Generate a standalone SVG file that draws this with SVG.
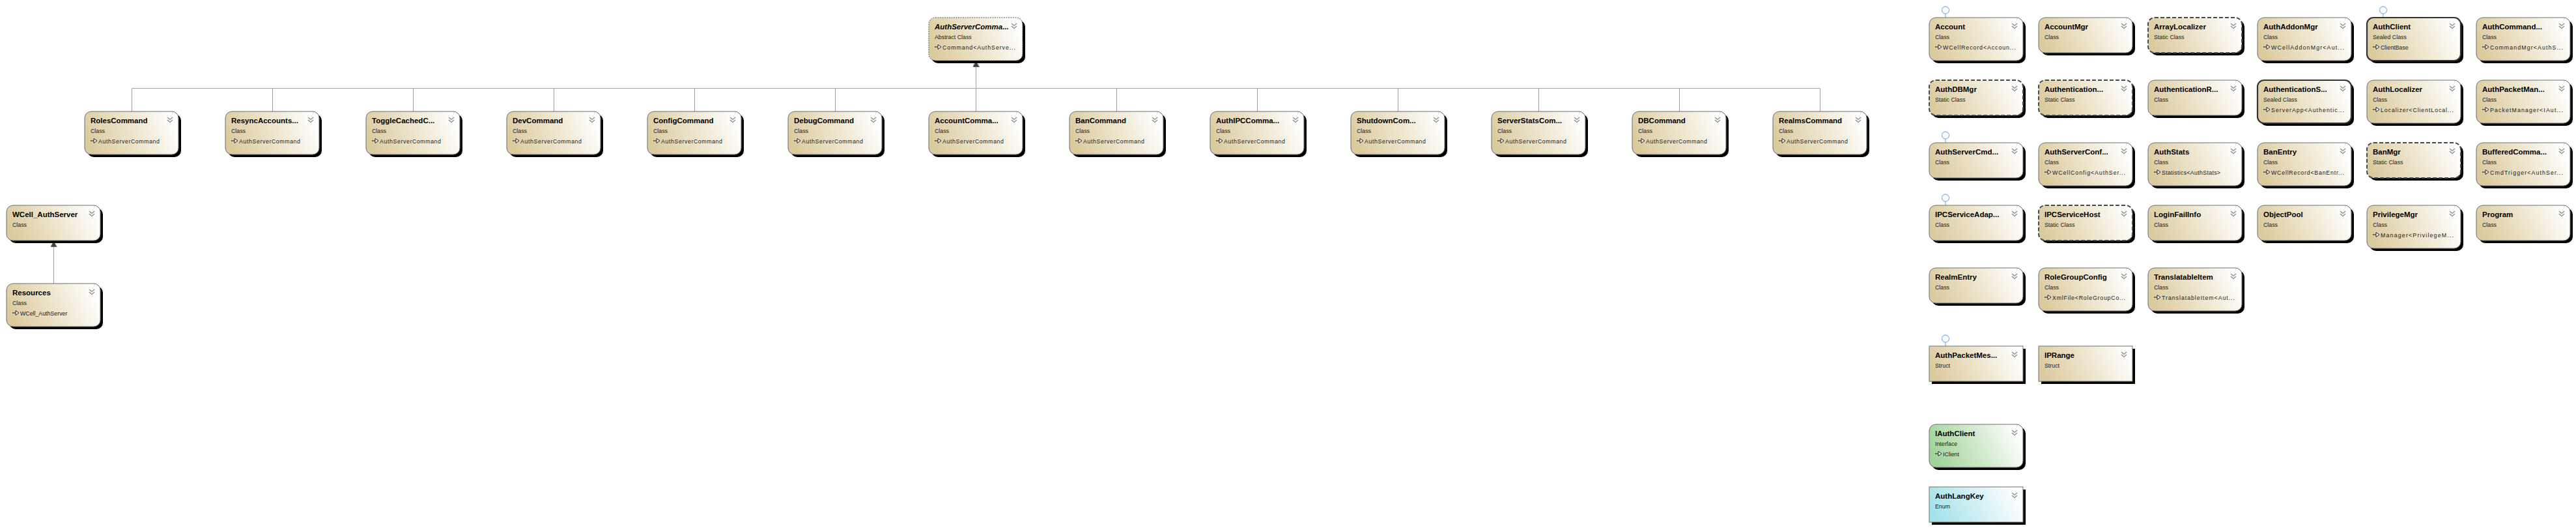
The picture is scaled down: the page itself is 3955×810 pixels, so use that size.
<svg xmlns="http://www.w3.org/2000/svg" width="3955" height="810" viewBox="0 0 3955 810">
<style>
.sh{fill:#000}
.box{stroke:#6f6f6f;stroke-width:1}
.cls{fill:url(#gCls)}
.sealed{stroke:#333;stroke-width:2.2}
.static{stroke:#4a4a4a;stroke-width:2;stroke-dasharray:6 3}
.abstract{stroke:#555;stroke-dasharray:2 1.5}
.iface{fill:url(#gIf)}
.enum{fill:url(#gEn)}
.t{font-family:"Liberation Sans",Arial,sans-serif;font-weight:bold;font-size:11.5px;fill:#000}
.ti{font-style:italic}
.s{font-family:"Liberation Sans",Arial,sans-serif;font-size:8.8px;fill:#1a1a1a}
.conn{fill:none;stroke:#a3a3a3;stroke-width:1}
.lp circle{fill:#fff;stroke:#86b9e8;stroke-width:1.3}
.lp line{stroke:#86b9e8;stroke-width:1.3}
</style>
<defs>
<linearGradient id="gCls" x1="0" y1="0.6" x2="1" y2="0.4"><stop offset="0" stop-color="#DBCA9D"/><stop offset="0.5" stop-color="#EDE4CB"/><stop offset="1" stop-color="#FFFFFF"/></linearGradient>
<linearGradient id="gIf" x1="0" y1="0.6" x2="1" y2="0.4"><stop offset="0" stop-color="#9FD397"/><stop offset="0.5" stop-color="#CFE8CA"/><stop offset="1" stop-color="#FFFFFF"/></linearGradient>
<linearGradient id="gEn" x1="0" y1="0.6" x2="1" y2="0.4"><stop offset="0" stop-color="#A2E2EA"/><stop offset="0.5" stop-color="#D2F0F4"/><stop offset="1" stop-color="#FFFFFF"/></linearGradient>
<g id="chev"><path d="M0,0 L4,3.5 L8,0 M0,4 L4,7.5 L8,4" fill="none" stroke="#8a8a8a" stroke-width="1.3"/></g>
<g id="inh"><path d="M0,0 H5" stroke="#222" stroke-width="1.1"/><path d="M5,-3.5 L10,0 L5,3.5 Z" fill="#fff" stroke="#222" stroke-width="1"/></g>
<marker id="tri" markerUnits="userSpaceOnUse" markerWidth="9" markerHeight="10" viewBox="0 0 9 10" refX="9" refY="5" orient="auto"><path d="M0,0 L9,5 L0,10 Z" fill="#404040" stroke="#9a9a9a" stroke-width="0.8"/></marker>
</defs>
<rect width="3955" height="810" fill="#fff"/>

<g id="connectors">
<path class="conn" marker-end="url(#tri)" d="M202.5,171 V135.5 H1498.5 V94"/>
<path class="conn" marker-end="url(#tri)" d="M418.5,171 V135.5 H1498.5 V94"/>
<path class="conn" marker-end="url(#tri)" d="M634.5,171 V135.5 H1498.5 V94"/>
<path class="conn" marker-end="url(#tri)" d="M850.5,171 V135.5 H1498.5 V94"/>
<path class="conn" marker-end="url(#tri)" d="M1066.5,171 V135.5 H1498.5 V94"/>
<path class="conn" marker-end="url(#tri)" d="M1282.5,171 V135.5 H1498.5 V94"/>
<path class="conn" marker-end="url(#tri)" d="M1498.5,171 V94"/>
<path class="conn" marker-end="url(#tri)" d="M1714.5,171 V135.5 H1498.5 V94"/>
<path class="conn" marker-end="url(#tri)" d="M1930.5,171 V135.5 H1498.5 V94"/>
<path class="conn" marker-end="url(#tri)" d="M2146.5,171 V135.5 H1498.5 V94"/>
<path class="conn" marker-end="url(#tri)" d="M2362.5,171 V135.5 H1498.5 V94"/>
<path class="conn" marker-end="url(#tri)" d="M2578.5,171 V135.5 H1498.5 V94"/>
<path class="conn" marker-end="url(#tri)" d="M2794.5,171 V135.5 H1498.5 V94"/>
<path class="conn" marker-end="url(#tri)" d="M82.5,435 V370"/>
</g>

<g id="n-AuthServerCommand">
<rect class="sh" x="1430" y="31" width="144" height="66" rx="10"/>
<rect class="box cls abstract" x="1426" y="27" width="144" height="66" rx="10"/>
<text class="t ti" x="1435" y="45">AuthServerComma...</text>
<text class="s" x="1435" y="60">Abstract Class</text>
<use href="#inh" x="1435" y="72"/>
<text class="s" x="1447" y="76" textLength="112" lengthAdjust="spacing">Command&lt;AuthServe...</text>
<use href="#chev" x="1553" y="36"/>
</g>

<g id="n-RolesCommand">
<rect class="sh" x="134" y="175" width="144" height="66" rx="10"/>
<rect class="box cls" x="130" y="171" width="144" height="66" rx="10"/>
<text class="t" x="139" y="189">RolesCommand</text>
<text class="s" x="139" y="204">Class</text>
<use href="#inh" x="139" y="216"/>
<text class="s" x="151" y="220" textLength="94" lengthAdjust="spacing">AuthServerCommand</text>
<use href="#chev" x="257" y="180"/>
</g>
<g id="n-ResyncAccounts">
<rect class="sh" x="350" y="175" width="144" height="66" rx="10"/>
<rect class="box cls" x="346" y="171" width="144" height="66" rx="10"/>
<text class="t" x="355" y="189">ResyncAccounts...</text>
<text class="s" x="355" y="204">Class</text>
<use href="#inh" x="355" y="216"/>
<text class="s" x="367" y="220" textLength="94" lengthAdjust="spacing">AuthServerCommand</text>
<use href="#chev" x="473" y="180"/>
</g>
<g id="n-ToggleCached">
<rect class="sh" x="566" y="175" width="144" height="66" rx="10"/>
<rect class="box cls" x="562" y="171" width="144" height="66" rx="10"/>
<text class="t" x="571" y="189">ToggleCachedC...</text>
<text class="s" x="571" y="204">Class</text>
<use href="#inh" x="571" y="216"/>
<text class="s" x="583" y="220" textLength="94" lengthAdjust="spacing">AuthServerCommand</text>
<use href="#chev" x="689" y="180"/>
</g>
<g id="n-DevCommand">
<rect class="sh" x="782" y="175" width="144" height="66" rx="10"/>
<rect class="box cls" x="778" y="171" width="144" height="66" rx="10"/>
<text class="t" x="787" y="189">DevCommand</text>
<text class="s" x="787" y="204">Class</text>
<use href="#inh" x="787" y="216"/>
<text class="s" x="799" y="220" textLength="94" lengthAdjust="spacing">AuthServerCommand</text>
<use href="#chev" x="905" y="180"/>
</g>
<g id="n-ConfigCommand">
<rect class="sh" x="998" y="175" width="144" height="66" rx="10"/>
<rect class="box cls" x="994" y="171" width="144" height="66" rx="10"/>
<text class="t" x="1003" y="189">ConfigCommand</text>
<text class="s" x="1003" y="204">Class</text>
<use href="#inh" x="1003" y="216"/>
<text class="s" x="1015" y="220" textLength="94" lengthAdjust="spacing">AuthServerCommand</text>
<use href="#chev" x="1121" y="180"/>
</g>
<g id="n-DebugCommand">
<rect class="sh" x="1214" y="175" width="144" height="66" rx="10"/>
<rect class="box cls" x="1210" y="171" width="144" height="66" rx="10"/>
<text class="t" x="1219" y="189">DebugCommand</text>
<text class="s" x="1219" y="204">Class</text>
<use href="#inh" x="1219" y="216"/>
<text class="s" x="1231" y="220" textLength="94" lengthAdjust="spacing">AuthServerCommand</text>
<use href="#chev" x="1337" y="180"/>
</g>
<g id="n-AccountCommand">
<rect class="sh" x="1430" y="175" width="144" height="66" rx="10"/>
<rect class="box cls" x="1426" y="171" width="144" height="66" rx="10"/>
<text class="t" x="1435" y="189">AccountComma...</text>
<text class="s" x="1435" y="204">Class</text>
<use href="#inh" x="1435" y="216"/>
<text class="s" x="1447" y="220" textLength="94" lengthAdjust="spacing">AuthServerCommand</text>
<use href="#chev" x="1553" y="180"/>
</g>
<g id="n-BanCommand">
<rect class="sh" x="1646" y="175" width="144" height="66" rx="10"/>
<rect class="box cls" x="1642" y="171" width="144" height="66" rx="10"/>
<text class="t" x="1651" y="189">BanCommand</text>
<text class="s" x="1651" y="204">Class</text>
<use href="#inh" x="1651" y="216"/>
<text class="s" x="1663" y="220" textLength="94" lengthAdjust="spacing">AuthServerCommand</text>
<use href="#chev" x="1769" y="180"/>
</g>
<g id="n-AuthIPCCommand">
<rect class="sh" x="1862" y="175" width="144" height="66" rx="10"/>
<rect class="box cls" x="1858" y="171" width="144" height="66" rx="10"/>
<text class="t" x="1867" y="189">AuthIPCComma...</text>
<text class="s" x="1867" y="204">Class</text>
<use href="#inh" x="1867" y="216"/>
<text class="s" x="1879" y="220" textLength="94" lengthAdjust="spacing">AuthServerCommand</text>
<use href="#chev" x="1985" y="180"/>
</g>
<g id="n-ShutdownCommand">
<rect class="sh" x="2078" y="175" width="144" height="66" rx="10"/>
<rect class="box cls" x="2074" y="171" width="144" height="66" rx="10"/>
<text class="t" x="2083" y="189">ShutdownCom...</text>
<text class="s" x="2083" y="204">Class</text>
<use href="#inh" x="2083" y="216"/>
<text class="s" x="2095" y="220" textLength="94" lengthAdjust="spacing">AuthServerCommand</text>
<use href="#chev" x="2201" y="180"/>
</g>
<g id="n-ServerStatsCommand">
<rect class="sh" x="2294" y="175" width="144" height="66" rx="10"/>
<rect class="box cls" x="2290" y="171" width="144" height="66" rx="10"/>
<text class="t" x="2299" y="189">ServerStatsCom...</text>
<text class="s" x="2299" y="204">Class</text>
<use href="#inh" x="2299" y="216"/>
<text class="s" x="2311" y="220" textLength="94" lengthAdjust="spacing">AuthServerCommand</text>
<use href="#chev" x="2417" y="180"/>
</g>
<g id="n-DBCommand">
<rect class="sh" x="2510" y="175" width="144" height="66" rx="10"/>
<rect class="box cls" x="2506" y="171" width="144" height="66" rx="10"/>
<text class="t" x="2515" y="189">DBCommand</text>
<text class="s" x="2515" y="204">Class</text>
<use href="#inh" x="2515" y="216"/>
<text class="s" x="2527" y="220" textLength="94" lengthAdjust="spacing">AuthServerCommand</text>
<use href="#chev" x="2633" y="180"/>
</g>
<g id="n-RealmsCommand">
<rect class="sh" x="2726" y="175" width="144" height="66" rx="10"/>
<rect class="box cls" x="2722" y="171" width="144" height="66" rx="10"/>
<text class="t" x="2731" y="189">RealmsCommand</text>
<text class="s" x="2731" y="204">Class</text>
<use href="#inh" x="2731" y="216"/>
<text class="s" x="2743" y="220" textLength="94" lengthAdjust="spacing">AuthServerCommand</text>
<use href="#chev" x="2849" y="180"/>
</g>

<g id="n-WCell_AuthServer">
<rect class="sh" x="14" y="319" width="144" height="54" rx="10"/>
<rect class="box cls" x="10" y="315" width="144" height="54" rx="10"/>
<text class="t" x="19" y="333">WCell_AuthServer</text>
<text class="s" x="19" y="348">Class</text>
<use href="#chev" x="137" y="324"/>
</g>
<g id="n-Resources">
<rect class="sh" x="14" y="439" width="144" height="66" rx="10"/>
<rect class="box cls" x="10" y="435" width="144" height="66" rx="10"/>
<text class="t" x="19" y="453">Resources</text>
<text class="s" x="19" y="468">Class</text>
<use href="#inh" x="19" y="480"/>
<text class="s" x="31" y="484">WCell_AuthServer</text>
<use href="#chev" x="137" y="444"/>
</g>

<!-- Row 1 -->
<g id="n-Account">
<g class="lp"><line x1="2987" y1="21" x2="2987" y2="27"/><circle cx="2987" cy="15.5" r="5.5"/></g>
<rect class="sh" x="2966" y="31" width="144" height="66" rx="10"/>
<rect class="box cls" x="2962" y="27" width="144" height="66" rx="10"/>
<text class="t" x="2971" y="45">Account</text>
<text class="s" x="2971" y="60">Class</text>
<use href="#inh" x="2971" y="72"/>
<text class="s" x="2983" y="76" textLength="112" lengthAdjust="spacing">WCellRecord&lt;Accoun...</text>
<use href="#chev" x="3089" y="36"/>
</g>
<g id="n-AccountMgr">
<rect class="sh" x="3134" y="31" width="144" height="54" rx="10"/>
<rect class="box cls" x="3130" y="27" width="144" height="54" rx="10"/>
<text class="t" x="3139" y="45">AccountMgr</text>
<text class="s" x="3139" y="60">Class</text>
<use href="#chev" x="3257" y="36"/>
</g>
<g id="n-ArrayLocalizer">
<rect class="sh" x="3302" y="31" width="144" height="54" rx="10"/>
<rect class="box cls static" x="3298" y="27" width="144" height="54" rx="10"/>
<text class="t" x="3307" y="45">ArrayLocalizer</text>
<text class="s" x="3307" y="60">Static Class</text>
<use href="#chev" x="3425" y="36"/>
</g>
<g id="n-AuthAddonMgr">
<rect class="sh" x="3470" y="31" width="144" height="66" rx="10"/>
<rect class="box cls" x="3466" y="27" width="144" height="66" rx="10"/>
<text class="t" x="3475" y="45">AuthAddonMgr</text>
<text class="s" x="3475" y="60">Class</text>
<use href="#inh" x="3475" y="72"/>
<text class="s" x="3487" y="76" textLength="112" lengthAdjust="spacing">WCellAddonMgr&lt;Aut...</text>
<use href="#chev" x="3593" y="36"/>
</g>
<g id="n-AuthClient">
<g class="lp"><line x1="3659" y1="21" x2="3659" y2="27"/><circle cx="3659" cy="15.5" r="5.5"/></g>
<rect class="sh" x="3638" y="31" width="144" height="66" rx="10"/>
<rect class="box cls sealed" x="3634" y="27" width="144" height="66" rx="10"/>
<text class="t" x="3643" y="45">AuthClient</text>
<text class="s" x="3643" y="60">Sealed Class</text>
<use href="#inh" x="3643" y="72"/>
<text class="s" x="3655" y="76">ClientBase</text>
<use href="#chev" x="3761" y="36"/>
</g>
<g id="n-AuthCommandHandler">
<rect class="sh" x="3806" y="31" width="144" height="66" rx="10"/>
<rect class="box cls" x="3802" y="27" width="144" height="66" rx="10"/>
<text class="t" x="3811" y="45">AuthCommand...</text>
<text class="s" x="3811" y="60">Class</text>
<use href="#inh" x="3811" y="72"/>
<text class="s" x="3823" y="76" textLength="112" lengthAdjust="spacing">CommandMgr&lt;AuthS...</text>
<use href="#chev" x="3929" y="36"/>
</g>

<!-- Row 2 -->
<g id="n-AuthDBMgr">
<rect class="sh" x="2966" y="127" width="144" height="54" rx="10"/>
<rect class="box cls static" x="2962" y="123" width="144" height="54" rx="10"/>
<text class="t" x="2971" y="141">AuthDBMgr</text>
<text class="s" x="2971" y="156">Static Class</text>
<use href="#chev" x="3089" y="132"/>
</g>
<g id="n-Authentication">
<rect class="sh" x="3134" y="127" width="144" height="54" rx="10"/>
<rect class="box cls static" x="3130" y="123" width="144" height="54" rx="10"/>
<text class="t" x="3139" y="141">Authentication...</text>
<text class="s" x="3139" y="156">Static Class</text>
<use href="#chev" x="3257" y="132"/>
</g>
<g id="n-AuthenticationR">
<rect class="sh" x="3302" y="127" width="144" height="54" rx="10"/>
<rect class="box cls" x="3298" y="123" width="144" height="54" rx="10"/>
<text class="t" x="3307" y="141">AuthenticationR...</text>
<text class="s" x="3307" y="156">Class</text>
<use href="#chev" x="3425" y="132"/>
</g>
<g id="n-AuthenticationS">
<rect class="sh" x="3470" y="127" width="144" height="66" rx="10"/>
<rect class="box cls sealed" x="3466" y="123" width="144" height="66" rx="10"/>
<text class="t" x="3475" y="141">AuthenticationS...</text>
<text class="s" x="3475" y="156">Sealed Class</text>
<use href="#inh" x="3475" y="168"/>
<text class="s" x="3487" y="172" textLength="112" lengthAdjust="spacing">ServerApp&lt;Authentic...</text>
<use href="#chev" x="3593" y="132"/>
</g>
<g id="n-AuthLocalizer">
<rect class="sh" x="3638" y="127" width="144" height="66" rx="10"/>
<rect class="box cls" x="3634" y="123" width="144" height="66" rx="10"/>
<text class="t" x="3643" y="141">AuthLocalizer</text>
<text class="s" x="3643" y="156">Class</text>
<use href="#inh" x="3643" y="168"/>
<text class="s" x="3655" y="172" textLength="112" lengthAdjust="spacing">Localizer&lt;ClientLocal...</text>
<use href="#chev" x="3761" y="132"/>
</g>
<g id="n-AuthPacketManager">
<rect class="sh" x="3806" y="127" width="144" height="66" rx="10"/>
<rect class="box cls" x="3802" y="123" width="144" height="66" rx="10"/>
<text class="t" x="3811" y="141">AuthPacketMan...</text>
<text class="s" x="3811" y="156">Class</text>
<use href="#inh" x="3811" y="168"/>
<text class="s" x="3823" y="172" textLength="112" lengthAdjust="spacing">PacketManager&lt;IAut...</text>
<use href="#chev" x="3929" y="132"/>
</g>

<!-- Row 3 -->
<g id="n-AuthServerCmd">
<g class="lp"><line x1="2987" y1="213" x2="2987" y2="219"/><circle cx="2987" cy="207.5" r="5.5"/></g>
<rect class="sh" x="2966" y="223" width="144" height="54" rx="10"/>
<rect class="box cls" x="2962" y="219" width="144" height="54" rx="10"/>
<text class="t" x="2971" y="237">AuthServerCmd...</text>
<text class="s" x="2971" y="252">Class</text>
<use href="#chev" x="3089" y="228"/>
</g>
<g id="n-AuthServerConf">
<rect class="sh" x="3134" y="223" width="144" height="66" rx="10"/>
<rect class="box cls" x="3130" y="219" width="144" height="66" rx="10"/>
<text class="t" x="3139" y="237">AuthServerConf...</text>
<text class="s" x="3139" y="252">Class</text>
<use href="#inh" x="3139" y="264"/>
<text class="s" x="3151" y="268" textLength="112" lengthAdjust="spacing">WCellConfig&lt;AuthSer...</text>
<use href="#chev" x="3257" y="228"/>
</g>
<g id="n-AuthStats">
<rect class="sh" x="3302" y="223" width="144" height="66" rx="10"/>
<rect class="box cls" x="3298" y="219" width="144" height="66" rx="10"/>
<text class="t" x="3307" y="237">AuthStats</text>
<text class="s" x="3307" y="252">Class</text>
<use href="#inh" x="3307" y="264"/>
<text class="s" x="3319" y="268" textLength="90" lengthAdjust="spacing">Statistics&lt;AuthStats&gt;</text>
<use href="#chev" x="3425" y="228"/>
</g>
<g id="n-BanEntry">
<rect class="sh" x="3470" y="223" width="144" height="66" rx="10"/>
<rect class="box cls" x="3466" y="219" width="144" height="66" rx="10"/>
<text class="t" x="3475" y="237">BanEntry</text>
<text class="s" x="3475" y="252">Class</text>
<use href="#inh" x="3475" y="264"/>
<text class="s" x="3487" y="268" textLength="112" lengthAdjust="spacing">WCellRecord&lt;BanEntr...</text>
<use href="#chev" x="3593" y="228"/>
</g>
<g id="n-BanMgr">
<rect class="sh" x="3638" y="223" width="144" height="54" rx="10"/>
<rect class="box cls static" x="3634" y="219" width="144" height="54" rx="10"/>
<text class="t" x="3643" y="237">BanMgr</text>
<text class="s" x="3643" y="252">Static Class</text>
<use href="#chev" x="3761" y="228"/>
</g>
<g id="n-BufferedCommand">
<rect class="sh" x="3806" y="223" width="144" height="66" rx="10"/>
<rect class="box cls" x="3802" y="219" width="144" height="66" rx="10"/>
<text class="t" x="3811" y="237">BufferedComma...</text>
<text class="s" x="3811" y="252">Class</text>
<use href="#inh" x="3811" y="264"/>
<text class="s" x="3823" y="268" textLength="112" lengthAdjust="spacing">CmdTrigger&lt;AuthSer...</text>
<use href="#chev" x="3929" y="228"/>
</g>

<!-- Row 4 -->
<g id="n-IPCServiceAdapter">
<g class="lp"><line x1="2987" y1="309" x2="2987" y2="315"/><circle cx="2987" cy="303.5" r="5.5"/></g>
<rect class="sh" x="2966" y="319" width="144" height="54" rx="10"/>
<rect class="box cls" x="2962" y="315" width="144" height="54" rx="10"/>
<text class="t" x="2971" y="333">IPCServiceAdap...</text>
<text class="s" x="2971" y="348">Class</text>
<use href="#chev" x="3089" y="324"/>
</g>
<g id="n-IPCServiceHost">
<rect class="sh" x="3134" y="319" width="144" height="54" rx="10"/>
<rect class="box cls static" x="3130" y="315" width="144" height="54" rx="10"/>
<text class="t" x="3139" y="333">IPCServiceHost</text>
<text class="s" x="3139" y="348">Static Class</text>
<use href="#chev" x="3257" y="324"/>
</g>
<g id="n-LoginFailInfo">
<rect class="sh" x="3302" y="319" width="144" height="54" rx="10"/>
<rect class="box cls" x="3298" y="315" width="144" height="54" rx="10"/>
<text class="t" x="3307" y="333">LoginFailInfo</text>
<text class="s" x="3307" y="348">Class</text>
<use href="#chev" x="3425" y="324"/>
</g>
<g id="n-ObjectPool">
<rect class="sh" x="3470" y="319" width="144" height="54" rx="10"/>
<rect class="box cls" x="3466" y="315" width="144" height="54" rx="10"/>
<text class="t" x="3475" y="333">ObjectPool</text>
<text class="s" x="3475" y="348">Class</text>
<use href="#chev" x="3593" y="324"/>
</g>
<g id="n-PrivilegeMgr">
<rect class="sh" x="3638" y="319" width="144" height="66" rx="10"/>
<rect class="box cls" x="3634" y="315" width="144" height="66" rx="10"/>
<text class="t" x="3643" y="333">PrivilegeMgr</text>
<text class="s" x="3643" y="348">Class</text>
<use href="#inh" x="3643" y="360"/>
<text class="s" x="3655" y="364" textLength="112" lengthAdjust="spacing">Manager&lt;PrivilegeM...</text>
<use href="#chev" x="3761" y="324"/>
</g>
<g id="n-Program">
<rect class="sh" x="3806" y="319" width="144" height="54" rx="10"/>
<rect class="box cls" x="3802" y="315" width="144" height="54" rx="10"/>
<text class="t" x="3811" y="333">Program</text>
<text class="s" x="3811" y="348">Class</text>
<use href="#chev" x="3929" y="324"/>
</g>

<!-- Row 5 -->
<g id="n-RealmEntry">
<rect class="sh" x="2966" y="415" width="144" height="54" rx="10"/>
<rect class="box cls" x="2962" y="411" width="144" height="54" rx="10"/>
<text class="t" x="2971" y="429">RealmEntry</text>
<text class="s" x="2971" y="444">Class</text>
<use href="#chev" x="3089" y="420"/>
</g>
<g id="n-RoleGroupConfig">
<rect class="sh" x="3134" y="415" width="144" height="66" rx="10"/>
<rect class="box cls" x="3130" y="411" width="144" height="66" rx="10"/>
<text class="t" x="3139" y="429">RoleGroupConfig</text>
<text class="s" x="3139" y="444">Class</text>
<use href="#inh" x="3139" y="456"/>
<text class="s" x="3151" y="460" textLength="112" lengthAdjust="spacing">XmlFile&lt;RoleGroupCo...</text>
<use href="#chev" x="3257" y="420"/>
</g>
<g id="n-TranslatableItem">
<rect class="sh" x="3302" y="415" width="144" height="66" rx="10"/>
<rect class="box cls" x="3298" y="411" width="144" height="66" rx="10"/>
<text class="t" x="3307" y="429">TranslatableItem</text>
<text class="s" x="3307" y="444">Class</text>
<use href="#inh" x="3307" y="456"/>
<text class="s" x="3319" y="460" textLength="112" lengthAdjust="spacing">TranslatableItem&lt;Aut...</text>
<use href="#chev" x="3425" y="420"/>
</g>

<!-- Row 6: structs -->
<g id="n-AuthPacketMessage">
<g class="lp"><line x1="2987" y1="525" x2="2987" y2="531"/><circle cx="2987" cy="519.5" r="5.5"/></g>
<rect class="sh" x="2966" y="535" width="144" height="54"/>
<rect class="box cls" x="2962" y="531" width="144" height="54"/>
<text class="t" x="2971" y="549">AuthPacketMes...</text>
<text class="s" x="2971" y="564">Struct</text>
<use href="#chev" x="3089" y="540"/>
</g>
<g id="n-IPRange">
<rect class="sh" x="3134" y="535" width="144" height="54"/>
<rect class="box cls" x="3130" y="531" width="144" height="54"/>
<text class="t" x="3139" y="549">IPRange</text>
<text class="s" x="3139" y="564">Struct</text>
<use href="#chev" x="3257" y="540"/>
</g>

<!-- Row 7: interface -->
<g id="n-IAuthClient">
<rect class="sh" x="2966" y="655" width="144" height="66" rx="10"/>
<rect class="box iface" x="2962" y="651" width="144" height="66" rx="10"/>
<text class="t" x="2971" y="669">IAuthClient</text>
<text class="s" x="2971" y="684">Interface</text>
<use href="#inh" x="2971" y="696"/>
<text class="s" x="2983" y="700">IClient</text>
<use href="#chev" x="3089" y="660"/>
</g>

<!-- Row 8: enum -->
<g id="n-AuthLangKey">
<rect class="sh" x="2966" y="751" width="144" height="54"/>
<rect class="box enum" x="2962" y="747" width="144" height="54"/>
<text class="t" x="2971" y="765">AuthLangKey</text>
<text class="s" x="2971" y="780">Enum</text>
<use href="#chev" x="3089" y="756"/>
</g>
</svg>
